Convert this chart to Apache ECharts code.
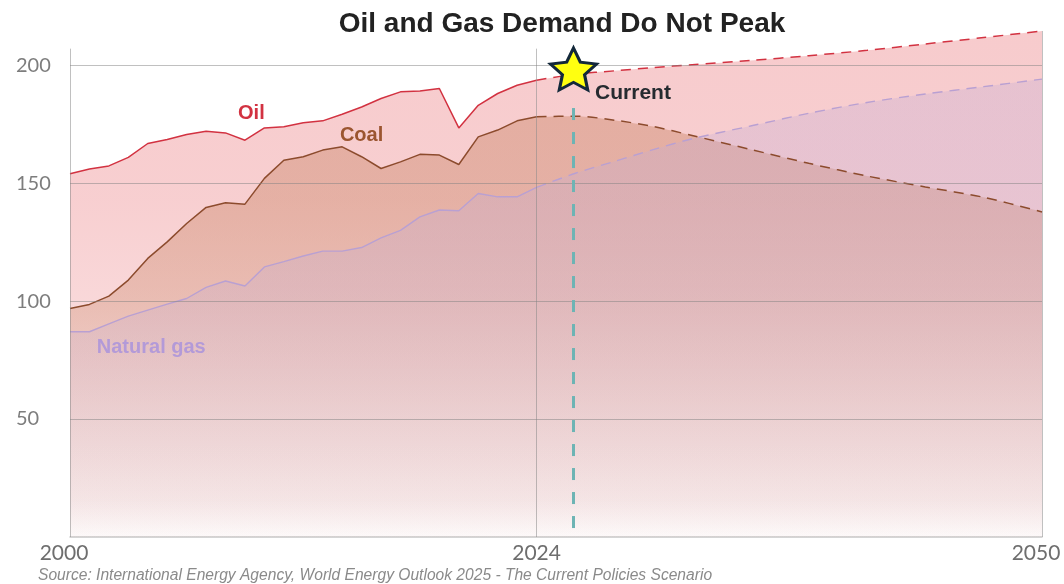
<!DOCTYPE html>
<html>
<head>
<meta charset="utf-8">
<title>Oil and Gas Demand Do Not Peak</title>
<script src="https://cdn.jsdelivr.net/npm/echarts@6.0.0/dist/echarts.min.js"></script>
<style>
  html, body { margin: 0; padding: 0; background: #fff; }
  #chart { width: 1064px; height: 584px; }
</style>
</head>
<body>
<div id="chart"></div>
<script>
// historical values 2000-2024
const histYears = [2000, 2001, 2002, 2003, 2004, 2005, 2006, 2007, 2008, 2009, 2010, 2011, 2012,
  2013, 2014, 2015, 2016, 2017, 2018, 2019, 2020, 2021, 2022, 2023, 2024];
const oilHist = [154, 156, 157.3, 160.9, 166.8, 168.5, 170.6, 172, 171.3, 168.2, 173.4, 173.9, 175.6,
  176.4, 179.2, 182.3, 185.9, 188.7, 189.1, 190.1, 173.4, 183, 188, 191.5, 193.6];
const coalHist = [96.9, 98.6, 102.1, 108.9, 118.1, 125.1, 132.9, 139.7, 141.7, 141.1, 152, 159.7, 161.2,
  164, 165.4, 161.2, 156.2, 159, 162.2, 161.9, 157.9, 169.6, 172.5, 176.4, 178.1];
const gasHist = [87, 87, 90.3, 93.6, 96.2, 98.7, 101.1, 105.8, 108.5, 106.4, 114.5, 116.7, 119.1,
  121.2, 121.2, 122.7, 126.8, 130, 135.7, 138.6, 138.3, 145.6, 144.2, 144.2, 148.2];

// projections (Current Policies Scenario)
const projYears = [2024, 2026, 2028, 2030, 2032, 2035, 2038, 2041, 2044, 2047, 2050];
const oilProj = [193.6, 196.2, 197.6, 199, 200.2, 202, 204, 206.3, 209, 211.7, 214.5];
const coalProj = [178.1, 178.4, 176.7, 174, 170.2, 164.3, 158.4, 153, 148.4, 144, 137.8];
const gasProj = [148.2, 154.2, 159.2, 164.2, 168.8, 174.2, 179.6, 184.2, 187.8, 190.9, 194.1];

const xTickLabels = [2000, 2024, 2050];
const yTickLabels = [50, 100, 150, 200];
const currentYear = 2025.9;

const GRID = { left: 70, right: 22, top: 18, bottom: 47 };
const plotTop = GRID.top;
const plotBottom = 584 - GRID.bottom;

const chart = echarts.init(document.getElementById('chart'));

function pairs(xs, ys) {
  return xs.map((x, i) => [x, ys[i]]);
}

// vertical fade of each layer towards white at the bottom
function fade(rgb, a) {
  const k = [[0, 1.08], [0.35, 1], [0.54, 0.82], [0.775, 0.46], [0.93, 0.24], [1, 0.05]];
  return new echarts.graphic.LinearGradient(0, plotTop, 0, plotBottom,
    k.map(s => ({ offset: s[0], color: 'rgba(' + rgb + ',' + (a * s[1]).toFixed(3) + ')' })), true);
}

const layers = [
  { name: 'Oil', hist: oilHist, proj: oilProj, line: '#d23241', fill: fade('232,105,110', 0.46), width: 1.5 },
  { name: 'Coal', hist: coalHist, proj: coalProj, line: '#8c4b2d', fill: fade('190,112,72', 0.46), width: 1.5 },
  { name: 'Natural gas', hist: gasHist, proj: gasProj, line: '#b9a0d2', fill: fade('196,172,212', 0.44), width: 1.4 }
];

const labelPos = {
  'Oil': { coord: [2009.33, 179.5], color: '#d23241' },
  'Coal': { coord: [2015.0, 170.1], color: '#9b5530' },
  'Natural gas': { coord: [2004.18, 80.4], color: '#b39ad8' }
};

const gridLineStyle = { color: 'rgba(130,130,130,0.5)', width: 1, type: 'solid' };
const axisTop = 207;

const starPath = 'path://M50,0 L64.11,30.58 L97.55,34.55 L72.83,57.42 L79.39,90.45 L50,74 L20.61,90.45 L27.17,57.42 L2.45,34.55 L35.89,30.58 Z';

const series = [];
layers.forEach((l, idx) => {
  const hist = {
    name: l.name,
    type: 'line',
    data: pairs(histYears, l.hist),
    showSymbol: false,
    lineStyle: { color: l.line, width: l.width },
    areaStyle: { color: l.fill },
    animation: false,
    markPoint: {
      silent: true,
      symbol: 'circle',
      symbolSize: 1,
      itemStyle: { color: 'transparent' },
      label: {
        show: true, position: 'inside', formatter: l.name,
        color: labelPos[l.name].color, fontSize: 20, fontWeight: 'bold',
        fontFamily: 'Liberation Sans, Arial, sans-serif'
      },
      data: [{ coord: labelPos[l.name].coord }]
    }
  };
  if (idx === 0) {
    // grid lines and vertical rules sit under the other layers
    hist.markLine = {
      silent: true,
      symbol: 'none',
      label: { show: false },
      lineStyle: gridLineStyle,
      data: yTickLabels.map(v => ({ yAxis: v })).concat([
        [{ coord: [2000, 0] }, { coord: [2000, axisTop] }],
        [{ coord: [2024, 0] }, { coord: [2024, axisTop] }],
        [{ coord: [2050, 0] }, { coord: [2050, oilProj[oilProj.length - 1]] }]
      ])
    };
  }
  series.push(hist);

  const proj = {
    name: l.name + ' (projection)',
    type: 'line',
    data: pairs(projYears, l.proj),
    smooth: 0.3,
    showSymbol: false,
    lineStyle: { color: l.line, width: l.width, type: [10, 7] },
    areaStyle: { color: l.fill },
    animation: false
  };
  if (idx === layers.length - 1) {
    proj.markLine = {
      silent: true,
      symbol: 'none',
      label: { show: false },
      lineStyle: { color: '#6db4b4', width: 3, type: [12, 12] },
      data: [[{ coord: [currentYear, 3.8] }, { coord: [currentYear, 186.6] }]]
    };
    proj.markPoint = {
      silent: true,
      symbol: starPath,
      symbolSize: [46, 42],
      itemStyle: { color: '#ffff10', borderColor: '#13283a', borderWidth: 3 },
      label: {
        show: true, formatter: 'Current', position: 'right', distance: 0, offset: [-3, 24],
        color: '#262b30', fontSize: 21, fontWeight: 'bold',
        fontFamily: 'Liberation Sans, Arial, sans-serif'
      },
      data: [{ coord: [currentYear, 198.4] }]
    };
  }
  series.push(proj);
});

const option = {
  backgroundColor: '#fff',
  grid: { left: GRID.left, right: GRID.right, top: GRID.top, bottom: GRID.bottom, outerBoundsMode: 'none' },
  xAxis: {
    type: 'value',
    min: 2000,
    max: 2050,
    splitLine: { show: false },
    axisTick: { show: false },
    axisLine: { show: true, lineStyle: { color: '#c8c8c8', width: 1.5 } },
    axisLabel: {
      customValues: xTickLabels,
      margin: 6,
      formatter: v => (v === 2024 ? '{c|' + v + '}' : '{e|' + v + '}'),
      rich: {
        c: { fontSize: 21, color: '#6e6e6e', fontFamily: 'Lato, sans-serif' },
        e: { fontSize: 21, color: '#6e6e6e', fontFamily: 'Lato, sans-serif', padding: [0, 12, 0, 0] }
      }
    }
  },
  yAxis: {
    type: 'value',
    min: 0,
    max: 220,
    interval: 50,
    splitLine: { show: false },
    axisTick: { show: false },
    axisLine: { show: false },
    axisLabel: {
      customValues: yTickLabels,
      align: 'left',
      margin: 54,
      fontSize: 20,
      color: '#7d7d7d',
      fontFamily: 'Lato, sans-serif'
    }
  },
  graphic: [
    {
      type: 'text', x: 562, y: 24, silent: true,
      style: {
        text: 'Oil and Gas Demand Do Not Peak', fill: '#222',
        font: 'bold 28px "Liberation Sans", Arial, sans-serif',
        textAlign: 'center', textVerticalAlign: 'middle'
      }
    },
    {
      type: 'text', x: 38, y: 576, silent: true,
      style: {
        text: 'Source: International Energy Agency, World Energy Outlook 2025 - The Current Policies Scenario',
        fill: '#8a8a8a',
        font: 'italic 15.6px "Liberation Sans", Arial, sans-serif',
        textAlign: 'left', textVerticalAlign: 'middle'
      }
    }
  ],
  series: series
};

chart.setOption(option);
</script>
</body>
</html>
